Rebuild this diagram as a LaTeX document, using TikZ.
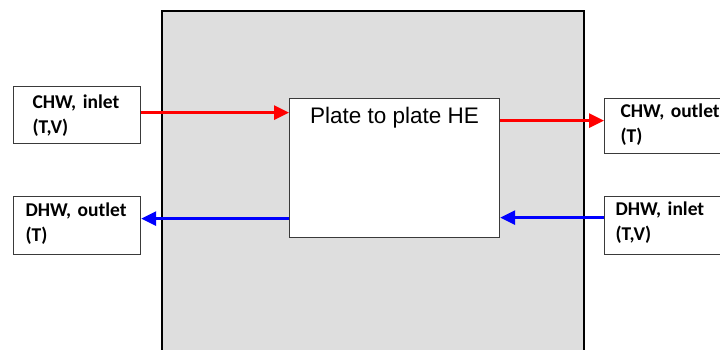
\documentclass[tikz,border=0pt]{standalone}
\usepackage{fontspec}
\newfontfamily\carl{Carlito}
\newfontfamily\arl{Liberation Sans}
\usetikzlibrary{arrows.meta,calc}
\definecolor{panelgray}{HTML}{DEDEDE}
\definecolor{edge}{HTML}{3A3A3A}
\definecolor{hotred}{HTML}{FF0000}
\definecolor{coldblue}{HTML}{0000FF}
\hyphenpenalty=10000
\begin{document}
\begin{tikzpicture}[x=1pt,y=-1pt,
  port/.style={draw=edge, line width=1.2pt, fill=white, anchor=north west,
    inner ysep=0pt, align=left,
    font=\carl\bfseries\fontsize{19.5}{25}\selectfont},
  flow/.style={line width=3pt, -{Triangle[length=15pt,width=14pt]}}]
\useasboundingbox (0,0) rectangle (720,349);
\clip (0,0) rectangle (720,349);
\fill[white] (0,0) rectangle (720,349);
% outer panel
\node[draw=black, line width=2pt, fill=panelgray, anchor=north west,
      minimum width=422pt, minimum height=370pt, inner sep=0pt] (panel) at (161,10) {};
% heat exchanger
\node[draw=edge, line width=1.2pt, fill=white, anchor=north west,
      minimum width=210pt, minimum height=139pt, inner sep=0pt] (he) at (289,98) {};
\node[anchor=base, font=\arl\fontsize{22.5}{27}\selectfont] (helabel)
      at ($(he.north)+(0,25)$) {Plate to plate HE};
% ports
\node[port, inner xsep=19pt, text width=89pt, text height=22pt, text depth=35pt]
      (chwin) at (13,86) {CHW, inlet\\(T,V)};
\node[port, inner xsep=12pt, text width=103pt, text height=20pt, text depth=38pt]
      (dhwout) at (13,196) {DHW, outlet\\(T)};
\node[port, inner xsep=16pt, text width=111pt, text height=19pt, text depth=36pt]
      (chwout) at (604,98) {CHW, outlet\\(T)};
\node[port, inner xsep=11pt, text width=105pt, text height=19pt, text depth=39pt]
      (dhwin) at (604,196) {DHW, inlet\\(T,V)};
% flows
\coordinate (r1) at ($(chwin.east)+(0,-2.5)$);
\coordinate (r2) at ($(chwout.west)+(0,-5.5)$);
\coordinate (b1) at ($(dhwout.east)+(0,-7)$);
\coordinate (b2) at ($(dhwin.west)+(0,-8)$);
\draw[flow, hotred] (r1) -- (r1 -| he.west);
\draw[flow, hotred] (r2 -| he.east) -- (r2);
\draw[flow, coldblue] (b1 -| he.west) -- (b1);
\draw[flow, coldblue] (b2) -- (b2 -| he.east);
\end{tikzpicture}
\end{document}
